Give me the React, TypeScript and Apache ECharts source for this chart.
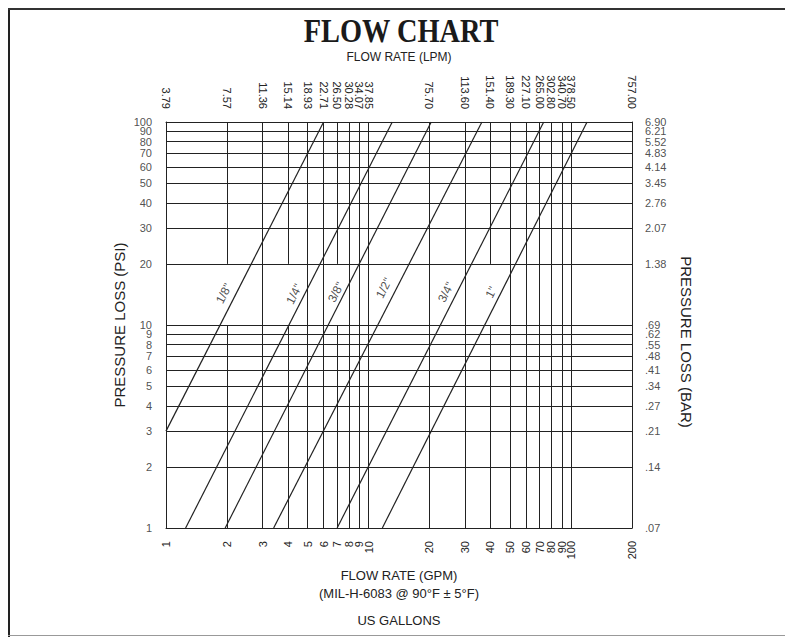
import React, { useEffect, useRef } from "react";
import * as echarts from "echarts";

// ---- data ----
const gpmTicks = [1, 2, 3, 4, 5, 6, 7, 8, 9, 10, 20, 30, 40, 50, 60, 70, 80, 90, 100, 200];
const gpmLabels = ["1", "2", "3", "4", "5", "6", "7", "8", "9", "10", "20", "30", "40", "50", "60", "70", "80", "90", "100", "200"];
const lpmLabels = ["3.79", "7.57", "11.36", "15.14", "18.93", "22.71", "26.50", "30.28", "34.07", "37.85", "75.70", "113.60", "151.40", "189.30", "227.10", "265.00", "302.80", "340.70", "378.50", "757.00"];
const psiTicks = [1, 2, 3, 4, 5, 6, 7, 8, 9, 10, 20, 30, 40, 50, 60, 70, 80, 90, 100];
const psiLabels = ["1", "2", "3", "4", "5", "6", "7", "8", "9", "10", "20", "30", "40", "50", "60", "70", "80", "90", "100"];
const barLabels = [".07", ".14", ".21", ".27", ".34", ".41", ".48", ".55", ".62", ".69", "1.38", "2.07", "2.76", "3.45", "4.14", "4.83", "5.52", "6.21", "6.90"];
// vertical grid lines that are interrupted between 10 and 20 PSI
const gappedGpm = [2, 4, 7, 40];
const gapFromPsi = 10;
const gapToPsi = 20;

const pipeSizes = ['1/8"', '1/4"', '3/8"', '1/2"', '3/4"', '1"'];
const pipeStartGpm = [1, 1.25, 1.96, 3.4, 7.0, 11.7];
const pipeStartPsi = [3, 1, 1, 1, 1, 1];
const pipeEndGpm = [6.0, 13.1, 20.4, 36.3, 73.3, 120];
const pipeEndPsi = [100, 100, 100, 100, 100, 100];
const labelGpm = [1.93, 4.29, 6.91, 11.9, 24.1, 40.3];
const labelPsi = [14.3, 14.2, 14.5, 15.2, 14.5, 14.5];

const GPM_MIN = 1;
const GPM_MAX = 200;
const PSI_MIN = 1;
const PSI_MAX = 100;

const FONT = "'Liberation Sans', Arial, Helvetica, sans-serif";
const INK = "#222";

const nearestIdx = (arr: number[], v: number) => {
  let best = 0;
  let bd = Infinity;
  arr.forEach((a, i) => {
    const d = Math.abs(Math.log(a) - Math.log(v));
    if (d < bd) {
      bd = d;
      best = i;
    }
  });
  return best;
};

export default function App() {
  const ref = useRef<HTMLDivElement>(null);

  useEffect(() => {
    if (!ref.current) return;
    const chart = echarts.init(ref.current, null, { renderer: "svg" });

    const axisLineStyle = { show: true, onZero: false, lineStyle: { color: INK, width: 1 } };
    const labelBase = { fontSize: 11, color: INK, fontFamily: FONT, showMinLabel: true, showMaxLabel: true, hideOverlap: false };

    const gridLines: any[] = [];
    gpmTicks.forEach((g) => {
      if (g === gpmTicks[0] || g === gpmTicks[gpmTicks.length - 1]) return;
      if (gappedGpm.indexOf(g) >= 0) {
        gridLines.push([{ coord: [g, PSI_MIN] }, { coord: [g, gapFromPsi] }]);
        gridLines.push([{ coord: [g, gapToPsi] }, { coord: [g, PSI_MAX] }]);
      } else {
        gridLines.push({ xAxis: g });
      }
    });
    psiTicks.forEach((p) => {
      if (p === psiTicks[0] || p === psiTicks[psiTicks.length - 1]) return;
      gridLines.push({ yAxis: p });
    });

    const pipeSeries = pipeSizes.map((name, i) => ({
      name,
      type: "line",
      xAxisIndex: 0,
      yAxisIndex: 0,
      symbol: "none",
      silent: true,
      lineStyle: { color: INK, width: 1.2 },
      data: [
        [pipeStartGpm[i], pipeStartPsi[i]],
        [pipeEndGpm[i], pipeEndPsi[i]],
      ],
    }));

    const xBase = {
      type: "log",
      logBase: 10,
      min: GPM_MIN,
      max: GPM_MAX,
      axisLine: axisLineStyle,
      axisTick: { show: false },
      splitLine: { show: false },
    };
    const yBase = {
      type: "log",
      logBase: 10,
      min: PSI_MIN,
      max: PSI_MAX,
      axisLine: axisLineStyle,
      axisTick: { show: false },
      splitLine: { show: false },
      axisLabel: { show: false },
    };

    const tickLabelSeries = (side: "left" | "right") => ({
      type: "scatter",
      name: side === "left" ? "psiTickLabels" : "barTickLabels",
      xAxisIndex: 0,
      yAxisIndex: 0,
      symbolSize: 0,
      silent: true,
      clip: false,
      data: psiTicks.map((p) => [side === "left" ? GPM_MIN : GPM_MAX, p]),
      label: {
        show: true,
        position: side,
        distance: side === "left" ? 14 : 13,
        fontSize: 11,
        color: INK,
        fontFamily: FONT,
        formatter: (p: any) => (side === "left" ? psiLabels : barLabels)[p.dataIndex],
      },
      labelLayout: { hideOverlap: false },
    });

    const option: any = {
      animation: false,
      grid: { left: 158, top: 114, width: 466, height: 406, containLabel: false },
      xAxis: [
        {
          ...xBase,
          position: "bottom",
          axisLabel: {
            ...labelBase,
            customValues: gpmTicks,
            rotate: 90,
            margin: 13,
            formatter: (v: number) => gpmLabels[nearestIdx(gpmTicks, v)],
          },
        },
        {
          ...xBase,
          position: "top",
          axisLabel: {
            ...labelBase,
            customValues: gpmTicks,
            rotate: 90,
            margin: 13,
            formatter: (v: number) => lpmLabels[nearestIdx(gpmTicks, v)],
          },
        },
      ],
      yAxis: [
        { ...yBase, position: "left" },
        { ...yBase, position: "right" },
      ],
      series: [
        {
          type: "line",
          name: "grid",
          xAxisIndex: 0,
          yAxisIndex: 0,
          data: [],
          silent: true,
          markLine: {
            silent: true,
            symbol: ["none", "none"],
            label: { show: false },
            lineStyle: { color: INK, width: 1, type: "solid" },
            emphasis: { disabled: true },
            data: gridLines,
          },
        },
        ...pipeSeries,
        tickLabelSeries("left"),
        tickLabelSeries("right"),
        {
          type: "scatter",
          name: "labels",
          xAxisIndex: 0,
          yAxisIndex: 0,
          symbolSize: 0,
          silent: true,
          data: labelGpm.map((g, i) => [g, labelPsi[i]]),
          label: {
            show: true,
            position: "inside",
            rotate: 63,
            fontSize: 12,
            color: INK,
            fontFamily: FONT,
            formatter: (p: any) => pipeSizes[p.dataIndex],
          },
        },
      ],
      graphic: [
        { type: "rect", shape: { x: 0, y: 0, width: 2, height: 629 }, style: { fill: "#222" }, silent: true },
        { type: "rect", shape: { x: 0, y: 0, width: 785, height: 2 }, style: { fill: "#333" }, silent: true },
        { type: "rect", shape: { x: 0, y: 627, width: 785, height: 1 }, style: { fill: "#999" }, silent: true },
        {
          type: "text",
          x: 393,
          y: 23,
          scaleX: 0.86,
          style: {
            text: "FLOW CHART",
            font: "bold 33px 'Liberation Serif', 'Times New Roman', serif",
            fill: "#1a1a1a",
            textAlign: "center",
            textVerticalAlign: "middle",
          },
        },
        {
          type: "text",
          x: 391,
          y: 49,
          style: { text: "FLOW RATE (LPM)", font: `12px ${FONT}`, fill: INK, textAlign: "center", textVerticalAlign: "middle" },
        },
        {
          type: "text",
          x: 111,
          y: 317,
          rotation: Math.PI / 2,
          style: { text: "PRESSURE LOSS (PSI)", font: `15px ${FONT}`, fill: INK, textAlign: "center", textVerticalAlign: "middle" },
        },
        {
          type: "text",
          x: 678,
          y: 334,
          rotation: -Math.PI / 2,
          style: { text: "PRESSURE LOSS (BAR)", font: `15px ${FONT}`, fill: INK, textAlign: "center", textVerticalAlign: "middle" },
        },
        {
          type: "text",
          x: 391,
          y: 567,
          style: { text: "FLOW RATE (GPM)", font: `13px ${FONT}`, fill: INK, textAlign: "center", textVerticalAlign: "middle" },
        },
        {
          type: "text",
          x: 391,
          y: 585,
          style: { text: "(MIL-H-6083 @ 90°F ± 5°F)", font: `13px ${FONT}`, fill: INK, textAlign: "center", textVerticalAlign: "middle" },
        },
        {
          type: "text",
          x: 391,
          y: 612,
          style: { text: "US GALLONS", font: `13px ${FONT}`, fill: INK, textAlign: "center", textVerticalAlign: "middle" },
        },
      ],
    };

    chart.setOption(option);
    return () => chart.dispose();
  }, []);

  return <div ref={ref} style={{ width: 785, height: 629 }} />;
}
